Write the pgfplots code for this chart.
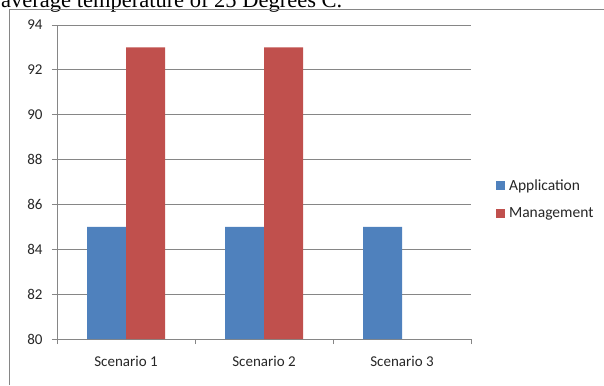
\documentclass[border=0pt]{standalone}
\usepackage{pgfplots}
\pgfplotsset{compat=1.18}
\usepackage{fontspec}
\setmainfont{Carlito}
\newfontfamily\serif{Liberation Serif}
\definecolor{cblue}{HTML}{4F81BD}
\definecolor{cred}{HTML}{C0504D}
\definecolor{frame}{HTML}{868686}
\begin{document}
\begin{tikzpicture}[x=1pt,y=1pt]
\useasboundingbox (0,0) rectangle (604,385);
\begin{scope}
\clip (0,0) rectangle (604,385);
\node[anchor=base west,inner sep=0pt,font=\serif\fontsize{22.5}{24}\selectfont] at (1,377.5) {average temperature of 25 Degrees C.};
\end{scope}
\draw[frame,line width=1pt] (9.5,0) -- (9.5,375) -- (604,375);
\begin{axis}[
  at={(57pt,46pt)}, anchor=south west,
  scale only axis, width=414pt, height=314pt,
  xmin=-0.5, xmax=2.5, ymin=80, ymax=94,
  ytick={80,82,...,94},
  xtick={0,1,2}, xticklabels={Scenario 1,Scenario 2,Scenario 3},
  minor xtick={-0.5,0.5,1.5,2.5},
  major x tick style={draw=none},
  minor tick length=5pt, major tick length=5pt,
  tick align=outside,
  axis lines*=left,
  axis line style={frame, line width=0.8pt},
  every tick/.style={frame, line width=0.8pt},
  ymajorgrids, major grid style={frame, line width=0.8pt},
  ybar=0pt, bar width=39pt,
  /pgf/number format/assume math mode=true,
  tick label style={font=\fontsize{15}{17}\selectfont, black!85},
  xticklabel style={yshift=-9pt},
  yticklabel style={xshift=-6pt},
  legend style={draw=none, at={(axis description cs:1.06,0.445)}, anchor=west,
    font=\fontsize{15.5}{17}\selectfont, text=black!85, row sep=12pt, inner sep=0pt,
    /tikz/every odd column/.style={column sep=2pt}},
  legend cell align=left,
  legend image code/.code={\fill[#1] (0pt,-4.5pt) rectangle (9pt,4.5pt);},
]
\addplot[fill=cblue, draw=none] coordinates {(0,85) (1,85) (2,85)};
\addplot[fill=cred, draw=none] coordinates {(0,93) (1,93)};
\legend{Application, Management}
\end{axis}
\end{tikzpicture}
\end{document}
